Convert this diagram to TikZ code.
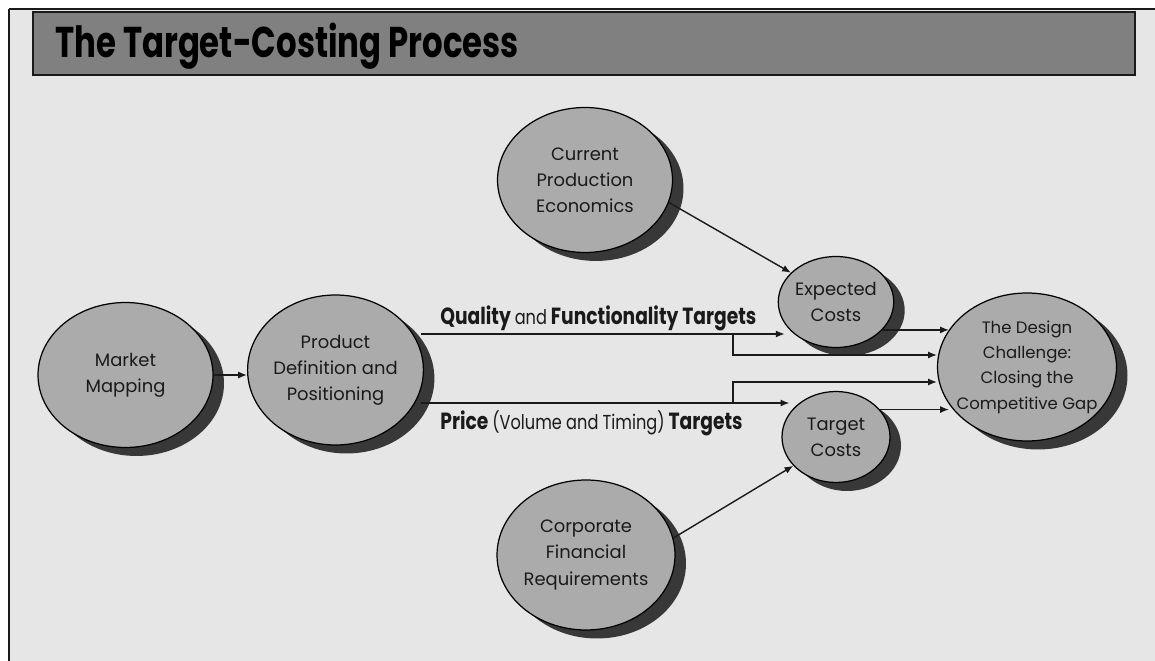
\documentclass[tikz,border=0pt]{standalone}
\usepackage{fontspec}
\setmainfont{Poppins}
\newfontfamily\narrowfont{Poppins}[FakeStretch=0.8]
\usetikzlibrary{positioning, arrows.meta, shapes.geometric, shadows}

\definecolor{panelgray}{HTML}{E6E6E6}
\definecolor{bargray}{HTML}{808080}
\definecolor{blobgray}{HTML}{ABABAB}
\definecolor{shadegray}{HTML}{383838}
\definecolor{ink}{HTML}{1A1A1A}

\newcommand{\lightpart}[1]{{\mdseries\fontsize{11.5}{14}\selectfont #1}}

\begin{document}
\begin{tikzpicture}[
  x=0.02cm, y=-0.02cm,
  >={Latex[length=5pt,width=4pt]},
  %% ellipse styles
  blob/.style={
    ellipse, draw=black, line width=0.7pt, fill=blobgray, text=ink,
    align=center, inner sep=0pt,
    font=\fontsize{10.2}{14.8}\selectfont,
    drop shadow={shadow xshift=0.22cm, shadow yshift=-0.17cm,
                 fill=shadegray, opacity=1}
  },
  bigblob/.style={blob, minimum width=3.5cm, minimum height=2.9cm},
  costblob/.style={blob, minimum width=2.16cm, minimum height=1.82cm},
  %% connector and label styles
  flow/.style={->, line width=0.8pt, draw=ink},
  target/.style={font=\narrowfont\bfseries\fontsize{13.3}{15}\selectfont,
                 text=ink, inner sep=0pt},
]
\useasboundingbox (0,0) rectangle (1155,661);

%% ── PANEL AND TITLE ──────────────────────────────────────────────────────
\fill[panelgray] (8,9) rectangle (1155,661);
\draw[ink, line width=1.5pt] (9,661) -- (9,9);
\draw[ink, line width=0.8pt] (9,9) -- (1155,9);
\draw[fill=bargray, draw=ink, line width=1.2pt] (33,12) rectangle (1135,75);
\node[anchor=base west, inner sep=0pt, text=black,
      font=\narrowfont\bfseries\fontsize{24.5}{28}\selectfont,
      xscale=0.94] (title) at (55,58)
  {The Target-Costing Process};

%% ── ELLIPSES ─────────────────────────────────────────────────────────────
\node[bigblob] (market) at (125.5,375) {Market\\Mapping};
\node[bigblob, minimum width=3.42cm, minimum height=3cm] (product) at (335.5,370)
  {Product\\Definition and\\Positioning};
\node[bigblob] (current) at (585,180) {Current\\Production\\Economics};
\node[bigblob, minimum width=3.56cm, minimum height=3cm] (corporate) at (586,555)
  {Corporate\\Financial\\Requirements};
\node[costblob] (expected) at (836,302) {Expected\\Costs};
\node[costblob] (tcost) at (836,437) {Target\\Costs};
\node[bigblob, minimum width=3.58cm, minimum height=2.96cm,
      inner xsep=-0.32cm, inner ysep=-0.18cm,
      font=\fontsize{9.4}{14.4}\selectfont] (design) at (1027,367)
  {The Design\\Challenge:\\Closing the\\Competitive Gap};

%% ── TARGET LINES ─────────────────────────────────────────────────────────
\coordinate (qual)  at (421,334);
\coordinate (price) at (421,403);
\coordinate (qjog)  at (733,355);
\coordinate (pjog)  at (733,382);

%% Market -> Product
\draw[flow] (market.east) -- (market.east -| product.west);

%% Product -> Expected / Target costs
\draw[flow, shorten >=-0.14cm] (qual) -- (qual -| expected.west);
\draw[flow, shorten >=-0.16cm] (price) -- (price -| tcost.west);
\node[target, anchor=base west] (qlabel) at (440,325)
  {Quality \lightpart{and} Functionality Targets};
\node[target, anchor=base west] (plabel) at (440,430)
  {Price \lightpart{(Volume and Timing)} Targets};

%% branches into the design challenge
\draw[flow] (qual -| qjog) |- (design.west |- qjog);
\draw[flow] (price -| pjog) |- (design.west |- pjog);

%% costs -> design challenge
\draw[flow, shorten >=-0.24cm] (expected.-31) -- (expected.-31 -| design.west);
\draw[flow, shorten >=-0.24cm] (tcost.32) -- (tcost.32 -| design.west);

%% economics and requirements -> costs
\draw[flow] (current.-15) -- (expected.147);
\draw[flow] (corporate.11) -- (tcost.214);

\end{tikzpicture}
\end{document}
